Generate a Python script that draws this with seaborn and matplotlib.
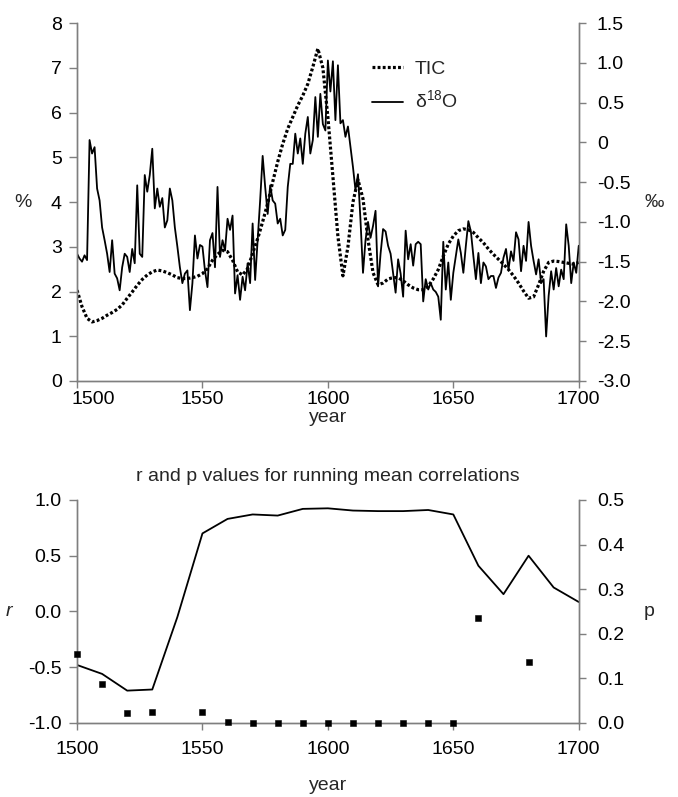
import pandas as pd
import matplotlib
matplotlib.use("Agg")
import matplotlib.pyplot as plt
import matplotlib.transforms as mtransforms
import seaborn as sns

# TIC (%) every 2 years, 1500-1700
tic_years = list(range(1500, 1701, 2))
tic_pct = [
    2.03, 1.66, 1.40, 1.32, 1.35, 1.40, 1.47, 1.53, 1.60, 1.70,
    1.85, 1.99, 2.14, 2.27, 2.37, 2.44, 2.48, 2.46, 2.42, 2.37,
    2.31, 2.29, 2.29, 2.31, 2.34, 2.40, 2.51, 2.70, 2.83, 2.92,
    2.89, 2.70, 2.44, 2.37, 2.51, 2.85, 3.18, 3.56, 3.97, 4.45,
    4.90, 5.30, 5.64, 5.90, 6.16, 6.38, 6.64, 7.02, 7.43, 7.00,
    5.90, 4.57, 3.23, 2.35, 3.00, 4.00, 4.50, 4.07, 3.16, 2.42,
    2.15, 2.19, 2.28, 2.31, 2.31, 2.24, 2.15, 2.08, 2.04, 2.04,
    2.12, 2.28, 2.49, 2.79, 3.06, 3.24, 3.36, 3.40, 3.38, 3.32,
    3.20, 3.09, 2.95, 2.83, 2.72, 2.61, 2.49, 2.35, 2.19, 2.01,
    1.85, 1.88, 2.15, 2.45, 2.65, 2.68, 2.67, 2.65, 2.63, 2.61,
    2.65,
]

# d18O (permil) every year, 1500-1700
d18o_years = list(range(1500, 1701))
d18o_permil = [
    -1.40, -1.46, -1.50, -1.42, -1.48, 0.03, -0.14, -0.06, -0.58, -0.73,
    -1.07, -1.23, -1.40, -1.63, -1.23, -1.65, -1.71, -1.86, -1.57, -1.40,
    -1.44, -1.63, -1.34, -1.52, -0.54, -1.40, -1.44, -0.41, -0.62, -0.41,
    -0.08, -0.83, -0.58, -0.81, -0.70, -1.07, -0.98, -0.58, -0.73, -1.07,
    -1.31, -1.57, -1.77, -1.65, -1.61, -2.11, -1.77, -1.17, -1.46, -1.29,
    -1.31, -1.61, -1.82, -1.23, -1.14, -1.57, -0.56, -1.44, -1.23, -1.36,
    -0.96, -1.10, -0.92, -1.90, -1.67, -1.98, -1.69, -1.86, -1.52, -1.77,
    -1.02, -1.73, -1.23, -0.73, -0.17, -0.56, -0.90, -0.54, -0.73, -0.77,
    -1.02, -0.96, -1.17, -1.10, -0.56, -0.27, -0.27, 0.11, -0.14, 0.05,
    -0.27, 0.11, 0.32, -0.14, 0.03, 0.57, 0.07, 0.61, 0.23, 0.15,
    1.03, 0.64, 1.02, 0.28, 0.97, 0.24, 0.28, 0.07, 0.20, -0.05,
    -0.31, -0.60, -0.40, -0.98, -1.64, -1.23, -1.00, -1.20, -1.05, -0.86,
    -1.81, -1.40, -1.09, -1.12, -1.30, -1.40, -1.64, -1.89, -1.47, -1.65,
    -1.94, -1.11, -1.47, -1.28, -1.55, -1.28, -1.25, -1.28, -2.00, -1.72,
    -1.85, -1.77, -1.85, -1.88, -1.94, -2.23, -1.25, -1.85, -1.51, -1.98,
    -1.64, -1.43, -1.22, -1.39, -1.64, -1.30, -0.99, -1.12, -1.43, -1.72,
    -1.39, -1.77, -1.51, -1.56, -1.72, -1.68, -1.68, -1.83, -1.70, -1.64,
    -1.45, -1.34, -1.60, -1.37, -1.49, -1.13, -1.22, -1.62, -1.30, -1.49,
    -1.00, -1.30, -1.49, -1.66, -1.47, -1.77, -1.72, -2.44, -1.93, -1.62,
    -1.85, -1.58, -1.81, -1.60, -1.72, -1.03, -1.30, -1.77, -1.51, -1.64,
    -1.30,
]

# running mean correlations
r_years = list(range(1500, 1701, 10))
r_vals = [-0.48, -0.56, -0.71, -0.70, -0.05, 0.70, 0.83, 0.87, 0.86, 0.92,
          0.925, 0.905, 0.90, 0.90, 0.91, 0.87, 0.41, 0.155, 0.50, 0.215, 0.085]
p_years = [1500, 1510, 1520, 1530, 1550, 1560, 1570, 1580, 1590, 1600,
           1610, 1620, 1630, 1640, 1650, 1660, 1680]
p_vals = [0.155, 0.087, 0.022, 0.025, 0.024, 0.003, 0.001, 0.001, 0.0, 0.0,
          0.0, 0.0, 0.0, 0.0, 0.0, 0.235, 0.137]

tic = pd.DataFrame({"year": tic_years, "TIC": tic_pct})
d18o = pd.DataFrame({"year": d18o_years, "d18O": d18o_permil})
rdf = pd.DataFrame({"year": r_years, "r": r_vals})
pdf = pd.DataFrame({"year": p_years, "p": p_vals})

sns.set_style("ticks")
plt.rcParams["font.family"] = ["Liberation Sans", "DejaVu Sans"]
fs = 14
grey = "#7f7f7f"


def style_axes(a, right=False):
    for side in ["left", "right", "bottom"]:
        a.spines[side].set_color(grey)
        a.spines[side].set_linewidth(1.0)
    a.spines["top"].set_visible(False)
    a.tick_params(colors=grey, labelcolor="black", labelsize=fs,
                  direction="out", length=5, width=1)
    if right:
        a.tick_params(axis="y", length=5, pad=8)
    else:
        a.tick_params(axis="y", length=6, pad=5)


fig = plt.figure(figsize=(6.78, 7.97), dpi=100)

# ---- top panel ----
ax = fig.add_axes([0.1136, 0.522, 0.740, 0.449])
ax2 = ax.twinx()
sns.lineplot(data=tic, x="year", y="TIC", ax=ax, color="black",
             linestyle=(0, (0.9, 0.7)), linewidth=2.3, label="TIC", legend=False)
sns.lineplot(data=d18o, x="year", y="d18O", ax=ax2, color="black",
             linewidth=1.3, label=r"δ$^{\mathregular{18}}$O", legend=False)
ax.set_xlim(1500, 1700)
ax.set_ylim(0, 8)
ax.set_yticks(range(0, 9))
ax2.set_ylim(-3.0, 1.5)
rt = [-3.0, -2.5, -2.0, -1.5, -1.0, -0.5, 0.0, 0.5, 1.0, 1.5]
ax2.set_yticks(rt)
ax2.set_yticklabels(["-3.0", "-2.5", "-2.0", "-1.5", "-1.0", "-0.5", "0",
                     "0.5", "1.0", "1.5"])
ax.set_xticks([1500, 1550, 1600, 1650, 1700])
ax.set_xlabel("year", fontsize=fs, labelpad=1)
ax.set_ylabel("%", fontsize=fs, rotation=0, labelpad=20, va="center")
ax2.set_ylabel("\u2030", fontsize=fs, rotation=0, labelpad=17, va="center")
style_axes(ax)
style_axes(ax2, right=True)
ax.tick_params(axis="x", pad=2)
# first year label sits right of the "0"
first = ax.xaxis.get_major_ticks()[0].label1
first.set_transform(first.get_transform() +
                    mtransforms.ScaledTranslation(0.16, 0, fig.dpi_scale_trans))
h1, l1 = ax.get_legend_handles_labels()
h2, l2 = ax2.get_legend_handles_labels()
ax2.legend(h1 + h2, l1 + l2, loc="upper left", bbox_to_anchor=(0.588, 0.895),
           frameon=False, fontsize=fs, handlelength=1.6, handletextpad=0.6,
           labelspacing=0.6, borderpad=0, borderaxespad=0)

# ---- bottom panel ----
bx = fig.add_axes([0.1136, 0.0929, 0.740, 0.2798])
bx2 = bx.twinx()
sns.lineplot(data=rdf, x="year", y="r", ax=bx, color="black", linewidth=1.3)
sns.scatterplot(data=pdf, x="year", y="p", ax=bx2, color="black", marker="s",
                s=22, edgecolor="black", clip_on=False, zorder=5)
bx.set_xlim(1500, 1700)
bx.set_xticks([1500, 1550, 1600, 1650, 1700])
bx.set_ylim(-1.0, 1.0)
bx.set_yticks([-1.0, -0.5, 0.0, 0.5, 1.0])
bx.set_yticklabels(["-1.0", "-0.5", "0.0", "0.5", "1.0"])
bx2.set_ylim(0, 0.5)
bx2.set_yticks([0.0, 0.1, 0.2, 0.3, 0.4, 0.5])
bx2.set_yticklabels(["0.0", "0.1", "0.2", "0.3", "0.4", "0.5"])
bx.set_xlabel("year", fontsize=fs, labelpad=14)
bx.set_ylabel("r", fontsize=fs, rotation=0, style="italic", labelpad=14,
              va="center")
bx2.set_ylabel("p", fontsize=fs, rotation=0, labelpad=18, va="center")
bx.set_title("r and p values for running mean correlations", fontsize=fs,
             pad=14)
style_axes(bx)
style_axes(bx2, right=True)
bx.tick_params(axis="x", pad=8)

fig.savefig("out.png", dpi=100)
